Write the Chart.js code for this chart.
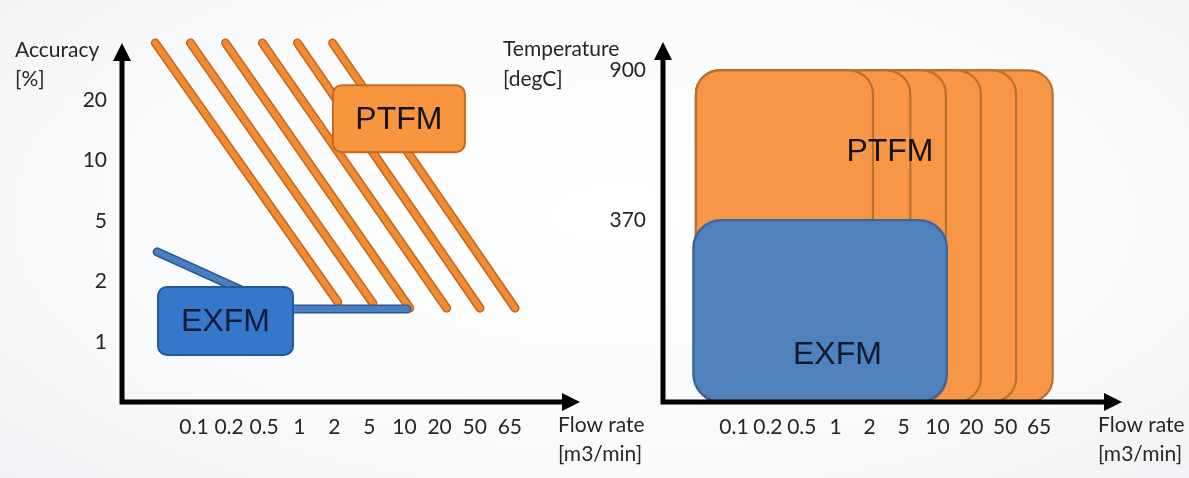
<!DOCTYPE html>
<html>
<head>
<meta charset="utf-8">
<title>PTFM / EXFM – accuracy and temperature range</title>
<script src="https://cdn.jsdelivr.net/npm/chart.js@4/dist/chart.umd.min.js"></script>
<style>
  html, body { margin: 0; padding: 0; }
  body {
    width: 1189px; height: 478px; overflow: hidden; position: relative;
    background: radial-gradient(ellipse 75% 85% at 52% 45%, #ffffff 0%, #f9fafb 60%, #eef0f3 100%);
  }
  canvas { position: absolute; top: 0; }
  #accuracyChart { left: 0; }
  #temperatureChart { left: 490px; }
</style>
</head>
<body>
<canvas id="accuracyChart" width="700" height="478"></canvas>
<canvas id="temperatureChart" width="699" height="478"></canvas>
<script>
// ---- tick labels ----
const flowLabels = ['0.1', '0.2', '0.5', '1', '2', '5', '10', '20', '50', '65'];   // m3/min
const accuracyLabels = ['1', '2', '5', '10', '20'];                              // %
const temperatureTicks = [370, 900];                                             // degC

// Flow positions are counted in tick steps along the flow axis (0 = "0.1" … 9 = "65"),
// accuracy positions in tick steps along the accuracy axis (0 = "1" … 4 = "20").

// PTFM: one accuracy band per meter size
const ptfmBandStartFlow = [-1.1, -0.1, 0.9, 1.95, 2.95, 3.95];
const ptfmBandStartAcc  = [4.94, 4.94, 4.94, 4.94, 4.94, 4.94];
const ptfmBandEndFlow   = [4.1, 5.1, 6.15, 7.2, 8.15, 9.15];
const ptfmBandEndAcc    = [0.66, 0.64, 0.56, 0.56, 0.56, 0.56];

// EXFM accuracy curve
const exfmCurveFlow = [-1.05, 2.55, 6.07];
const exfmCurveAcc  = [1.49, 0.545, 0.545];

// Operating envelopes (flow in tick steps, temperature in degC)
const ptfmEnvelopeMinFlow = [-1.12, -1.12, -1.12, -1.12, -1.12, -1.12];
const ptfmEnvelopeMaxFlow = [4.1, 5.2, 6.25, 7.28, 8.32, 9.4];
const ptfmMaxTemperature  = 900;
const exfmEnvelopeFlow    = [-1.2, 6.28];
const exfmMaxTemperature  = 370;
const absoluteZero        = -273;

// ---- styling ----
const TEXT = '#262626';
const AXIS_FONT = { family: 'Lato', size: 21 };
const BOX_FONT = '32px "Liberation Sans", Arial, sans-serif';

function roundedRect(ctx, x, y, w, h, r) {
  r = Math.min(r, w / 2, h / 2);
  ctx.beginPath();
  ctx.moveTo(x + r, y);
  ctx.lineTo(x + w - r, y);
  ctx.arcTo(x + w, y, x + w, y + r, r);
  ctx.lineTo(x + w, y + h - r);
  ctx.arcTo(x + w, y + h, x + w - r, y + h, r);
  ctx.lineTo(x + r, y + h);
  ctx.arcTo(x, y + h, x, y + h - r, r);
  ctx.lineTo(x, y + r);
  ctx.arcTo(x, y, x + r, y, r);
  ctx.closePath();
}

// Black axes with arrow heads
const arrowAxes = {
  id: 'arrowAxes',
  afterDraw(chart) {
    const { ctx, chartArea: a } = chart;
    const lw = 5, head = 18, half = 9;
    ctx.save();
    ctx.strokeStyle = '#000';
    ctx.fillStyle = '#000';
    ctx.lineWidth = lw;
    ctx.lineCap = 'butt';
    ctx.beginPath();
    ctx.moveTo(a.left, a.bottom + lw / 2);
    ctx.lineTo(a.left, a.top + head - 1);
    ctx.moveTo(a.left - lw / 2, a.bottom);
    ctx.lineTo(a.right - head + 1, a.bottom);
    ctx.stroke();
    ctx.beginPath();
    ctx.moveTo(a.left, a.top);
    ctx.lineTo(a.left - half, a.top + head);
    ctx.lineTo(a.left + half, a.top + head);
    ctx.closePath();
    ctx.fill();
    ctx.beginPath();
    ctx.moveTo(a.right, a.bottom);
    ctx.lineTo(a.right - head, a.bottom - half);
    ctx.lineTo(a.right - head, a.bottom + half);
    ctx.closePath();
    ctx.fill();
    ctx.restore();
  }
};

// Axis titles: dx from the plot's left or right edge, dy from its top or bottom edge
const axisTitles = {
  id: 'axisTitles',
  afterDraw(chart, args, opts) {
    const { ctx, chartArea: a } = chart;
    ctx.save();
    ctx.fillStyle = TEXT;
    ctx.font = `${AXIS_FONT.size}px ${AXIS_FONT.family}`;
    ctx.textAlign = 'left';
    ctx.textBaseline = 'alphabetic';
    (opts.items || []).forEach(t => {
      const x = (t.xFrom === 'right' ? a.right : a.left) + t.dx;
      const y = (t.yFrom === 'bottom' ? a.bottom : a.top) + t.dy;
      ctx.fillText(t.text, x, y);
    });
    ctx.restore();
  }
};

// Labelled call-out boxes anchored at data coordinates
const calloutBoxes = {
  id: 'calloutBoxes',
  afterDatasetsDraw(chart, args, opts) {
    const { ctx, scales: { x, y } } = chart;
    ctx.save();
    (opts.items || []).forEach(b => {
      const cx = x.getPixelForValue(b.x), cy = y.getPixelForValue(b.y);
      roundedRect(ctx, cx - b.w / 2, cy - b.h / 2, b.w, b.h, b.r);
      ctx.fillStyle = b.fill;
      ctx.fill();
      ctx.lineWidth = 2;
      ctx.strokeStyle = b.stroke;
      ctx.stroke();
      ctx.fillStyle = b.color;
      ctx.font = BOX_FONT;
      ctx.textAlign = 'center';
      ctx.textBaseline = 'middle';
      ctx.fillText(b.label, cx, cy + 1);
    });
    ctx.restore();
  }
};

// Temperature / flow envelopes drawn as rounded regions on the scales
const envelopes = {
  id: 'envelopes',
  beforeDatasetsDraw(chart, args, opts) {
    const { ctx, scales: { x, y } } = chart;
    ctx.save();
    (opts.items || []).forEach(e => {
      if (e.label === undefined) {
        const l = x.getPixelForValue(e.x0), r = x.getPixelForValue(e.x1);
        const t = y.getPixelForValue(e.y1), btm = y.getPixelForValue(e.y0);
        roundedRect(ctx, l, t, r - l, btm - t, e.r);
        ctx.fillStyle = e.fill;
        ctx.fill();
        ctx.lineWidth = 2.2;
        ctx.strokeStyle = e.stroke;
        ctx.stroke();
      } else {
        ctx.fillStyle = e.color;
        ctx.font = BOX_FONT;
        ctx.textAlign = 'center';
        ctx.textBaseline = 'middle';
        ctx.fillText(e.label, x.getPixelForValue(e.x), y.getPixelForValue(e.y));
      }
    });
    ctx.restore();
  }
};

function indexAxis(labels, min, max, padding, size, horizontal) {
  const axis = {
    type: 'linear', min, max,
    afterBuildTicks: s => { s.ticks = labels.map((_, i) => ({ value: i })); },
    ticks: {
      callback: v => labels[v], autoSkip: false, maxRotation: 0,
      padding, color: TEXT, font: AXIS_FONT
    },
    grid: { display: false, drawTicks: false },
    border: { display: false }
  };
  axis.afterFit = horizontal ? (s => { s.height = size; }) : (s => { s.width = size; });
  return axis;
}

function lineSet(xs, ys, color, width, order) {
  return {
    data: xs.map((x, i) => ({ x, y: ys[i] })),
    borderColor: color, borderWidth: width,
    borderCapStyle: 'round', borderJoinStyle: 'round',
    pointRadius: 0, fill: false, tension: 0, clip: false, order
  };
}

function build() {
  // ---------- accuracy vs flow rate ----------
  const datasets = [];
  ptfmBandStartFlow.forEach((x0, k) => {
    const xs = [x0, ptfmBandEndFlow[k]], ys = [ptfmBandStartAcc[k], ptfmBandEndAcc[k]];
    datasets.push(lineSet(xs, ys, '#C2661F', 9, 4));
    datasets.push(lineSet(xs, ys, '#F08B33', 6, 3));
  });
  datasets.push(lineSet(exfmCurveFlow, exfmCurveAcc, '#2D5A94', 9, 2));
  datasets.push(lineSet(exfmCurveFlow, exfmCurveAcc, '#4A7EC2', 6, 1));

  new Chart(document.getElementById('accuracyChart'), {
    type: 'line',
    data: { datasets },
    plugins: [calloutBoxes, arrowAxes, axisTitles],
    options: {
      responsive: false, animation: false, devicePixelRatio: 1,
      layout: { padding: { top: 43, right: 120, bottom: 0, left: 0 } },
      scales: {
        x: indexAxis(flowLabels, -2.05, 11.0, 13, 76, true),
        y: indexAxis(accuracyLabels, -0.99, 4.94, 15, 122, false)
      },
      plugins: {
        legend: { display: false }, tooltip: { enabled: false },
        calloutBoxes: { items: [
          { label: 'PTFM', x: 5.84, y: 3.69, w: 132, h: 67, r: 9, fill: '#F7963F', stroke: '#C8691F', color: '#141414' },
          { label: 'EXFM', x: 0.9, y: 0.35, w: 135, h: 68, r: 9, fill: '#3578C9', stroke: '#24589A', color: '#0E1C38' }
        ] },
        axisTitles: { items: [
          { text: 'Accuracy', dx: -107, dy: 14 },
          { text: '[%]', dx: -107, dy: 43 },
          { text: 'Flow rate', xFrom: 'right', dx: -22, yFrom: 'bottom', dy: 30 },
          { text: '[m3/min]', xFrom: 'right', dx: -22, yFrom: 'bottom', dy: 59 }
        ] }
      }
    }
  });

  // ---------- temperature vs flow rate ----------
  const envItems = [];
  for (let k = ptfmEnvelopeMaxFlow.length - 1; k >= 0; k--) {
    envItems.push({ x0: ptfmEnvelopeMinFlow[k], x1: ptfmEnvelopeMaxFlow[k], y0: absoluteZero, y1: ptfmMaxTemperature,
                    r: 24, fill: '#F79646', stroke: '#B9712F' });
  }
  envItems.push({ label: 'PTFM', x: 4.6, y: 611, color: '#141414' });
  envItems.push({ x0: exfmEnvelopeFlow[0], x1: exfmEnvelopeFlow[1], y0: absoluteZero, y1: exfmMaxTemperature,
                  r: 28, fill: '#4F81BD', stroke: '#3A6398' });
  envItems.push({ label: 'EXFM', x: 3.05, y: -107, color: '#111a2a' });

  new Chart(document.getElementById('temperatureChart'), {
    type: 'line',
    data: { datasets: [] },
    plugins: [envelopes, arrowAxes, axisTitles],
    options: {
      responsive: false, animation: false, devicePixelRatio: 1,
      layout: { padding: { top: 42, right: 67, bottom: 0, left: 0 } },
      scales: {
        x: indexAxis(flowLabels, -2.094, 11.445, 13, 76, true),
        y: {
          type: 'linear', min: absoluteZero, max: 1000,
          afterBuildTicks: s => { s.ticks = temperatureTicks.map(v => ({ value: v })); },
          ticks: { callback: v => String(v), padding: 17, color: TEXT, font: AXIS_FONT },
          grid: { display: false, drawTicks: false },
          border: { display: false },
          afterFit: s => { s.width = 173; }
        }
      },
      plugins: {
        legend: { display: false }, tooltip: { enabled: false },
        envelopes: { items: envItems },
        axisTitles: { items: [
          { text: 'Temperature', dx: -160, dy: 14 },
          { text: '[degC]', dx: -160, dy: 44 },
          { text: 'Flow rate', xFrom: 'right', dx: -24, yFrom: 'bottom', dy: 30 },
          { text: '[m3/min]', xFrom: 'right', dx: -24, yFrom: 'bottom', dy: 59 }
        ] }
      }
    }
  });
}

Promise.all([
  document.fonts.load('21px Lato'),
  document.fonts.load('32px "Liberation Sans"')
]).then(build, build);
</script>
</body>
</html>
